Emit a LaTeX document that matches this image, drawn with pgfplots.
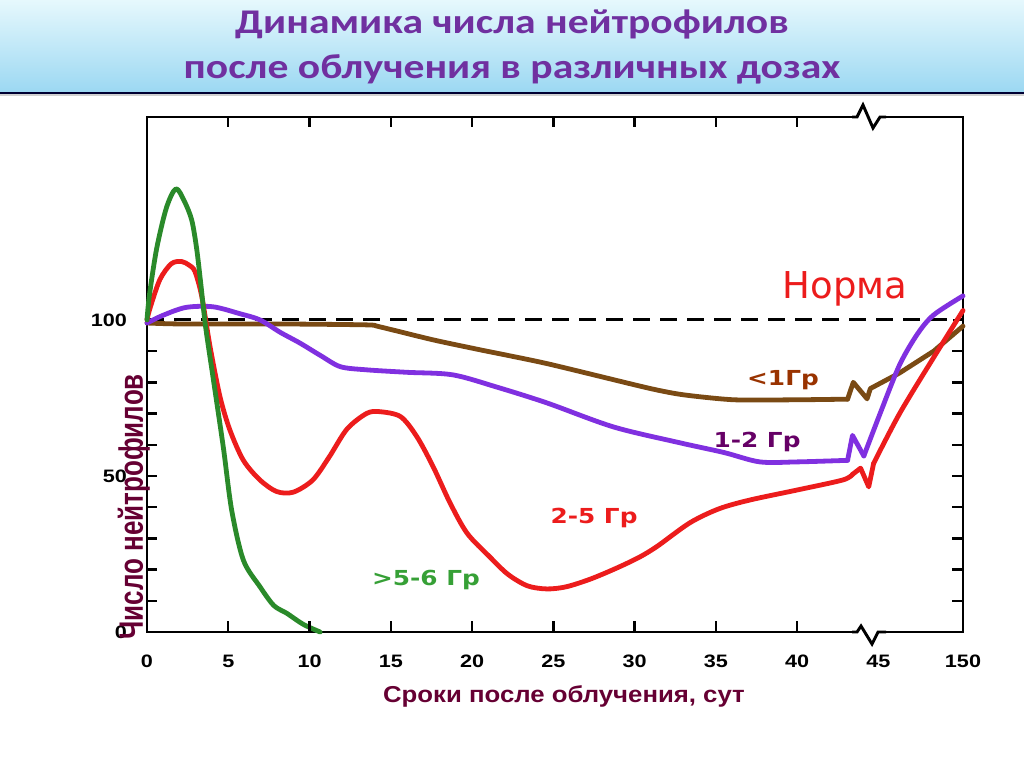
\documentclass[border=0pt]{standalone}
\usepackage{fontspec}
\usepackage{graphicx}
\usepackage{pgfplots}
\pgfplotsset{compat=1.18}
\setmainfont{DejaVu Sans}
\newfontfamily\carlito{Carlito}
\newfontfamily\lib{Liberation Sans}
\newfontfamily\dvs{DejaVu Sans}

\definecolor{titlepurple}{HTML}{7030A0}
\definecolor{bandtop}{HTML}{E6F8FD}
\definecolor{bandbot}{HTML}{9CD8F2}
\definecolor{labmaroon}{HTML}{660033}
\definecolor{cgreen}{HTML}{2A8A2A}
\definecolor{cred}{HTML}{EC1C1C}
\definecolor{cpurple}{HTML}{8030E0}
\definecolor{cbrown}{HTML}{7A4A14}
\definecolor{tbrown}{HTML}{993300}
\definecolor{tpurple}{HTML}{660066}
\definecolor{tgreen}{HTML}{36A036}

\begin{document}
\begin{tikzpicture}
% page frame and title band, in pixel units (y down)
\begin{scope}[x=0.75pt,y=-0.75pt]
\useasboundingbox (0,0) rectangle (1024,767);
\fill[white] (0,0) rectangle (1024,767);
\shade[top color=bandtop,bottom color=bandbot] (0,0) rectangle (1024,92);
\fill[black!18] (0,93) rectangle (1024,96);
\draw[line width=1.5pt,black!80!blue] (0,93)--(1024,93);
\node[anchor=base,xscale=1.2,text=titlepurple,font=\carlito\bfseries\fontsize{26}{30}\selectfont] at (512,34) {Динамика числа нейтрофилов};
\node[anchor=base,xscale=1.2,text=titlepurple,font=\carlito\bfseries\fontsize{26}{30}\selectfont] at (512,79) {после облучения в различных дозах};
\end{scope}

\begin{axis}[at={(110.25pt,-474pt)}, anchor=south west,
  scale only axis, width=612pt, height=386.25pt,
  xmin=0, xmax=50.2, ymin=0, ymax=165, clip=false,
  axis line style={line width=2.2pt},
  tick align=inside, major tick length=7.5pt,
  tick style={line width=1.8pt,black},
  xtick={0,5,10,...,45,50.2}, xticklabels={0,5,10,15,20,25,30,35,40,45,150},
  ytick={0,10,...,100}, yticklabels={0,,,,,50,,,,,100},
  /pgf/number format/assume math mode=true,
  ticklabel style={font=\lib\bfseries\fontsize{13.5}{16}\selectfont, xscale=1.2},
  xticklabel style={yshift=-14pt},
  yticklabel style={xshift=-9pt},
  xlabel={Сроки после облучения, сут},
  xlabel style={at={(axis description cs:0.511,-0.136)}, anchor=base,
    font=\lib\bfseries\fontsize{17.25}{20}\selectfont, text=labmaroon, xscale=1.12},
  ylabel={\scalebox{1}[1.3]{Число нейтрофилов}},
  ylabel style={at={(axis description cs:-0.005,0.243)}, anchor=base,
    font=\lib\bfseries\fontsize{19.5}{22}\selectfont, text=labmaroon},
  every axis plot/.append style={line width=3.6pt, line cap=round, line join=round}]

% norm
\addplot[black, line width=2.2pt, dash pattern=on 12.75pt off 7.5pt, line cap=butt] coordinates {(0,100)(50.2,100)};

% <1 Gy
\addplot[cbrown, smooth, tension=0.4] coordinates {(0,99)(2,98.7)(8,98.7)(13.5,98.4)(14.3,97.8)(17.6,93.6)(20.5,90.4)(24.6,86)(30.8,78.2)(33,76)(36.1,74.4)(40,74.4)(43.1,74.6)};
\addplot[cbrown] coordinates {(43.1,74.6)(43.45,80)(44.3,74.7)(44.5,78)(46.3,83)(48.4,90)(50.2,98)};

% 1-2 Gy
\addplot[cpurple, smooth, tension=0.5] coordinates {(0,99)(1.0,101.5)(2.4,104)(4.06,104.2)(5.7,102)(6.95,100)(8.2,96)(9.4,92.6)(10.7,88.5)(11.9,85)(13.5,84)(16,83.2)(18.8,82.4)(21.5,78.5)(24.6,73.4)(28.7,65.7)(32.8,60.6)(35.5,57.5)(37.7,54.5)(40,54.5)(43.1,55)};
\addplot[cpurple] coordinates {(43.1,55)(43.4,63)(44.1,56.4)};
\addplot[cpurple, smooth, tension=0.5] coordinates {(44.1,56.4)(45.1,70)(46.3,85.6)(47.4,95.5)(48.4,101.6)(50.2,107.7)};

% 2-5 Gy
\addplot[cred, smooth, tension=0.5] coordinates {(0,100)(0.2,104)(0.8,113)(1.5,118)(2.13,118.7)(2.6,117.5)(2.95,115.5)(3.37,107.5)(3.88,91.4)(4.49,75.4)(5.1,64.7)(5.93,55)(6.95,48.7)(7.98,45)(9.0,44.8)(10.2,48.7)(11.2,56)(12.3,65)(13.5,70)(14.3,70.6)(15.6,69)(16.6,62.6)(17.6,53)(18.65,41.3)(19.7,31.6)(21.1,24)(22.2,18.5)(23.4,14.8)(24.6,13.8)(25.8,14.5)(27.3,17)(28.9,20.5)(30.3,24)(31.4,27.5)(33.4,35)(35.2,39.5)(37.1,42.3)(40,45.5)(42.8,48.7)(43.4,50.5)};
\addplot[cred] coordinates {(43.4,50.5)(43.9,52.5)(44.4,46.5)(44.7,54)};
\addplot[cred, smooth, tension=0.5] coordinates {(44.7,54)(46.3,70)(48.4,88)(50.2,103)};

% >5-6 Gy
\addplot[cgreen, smooth, tension=0.5] coordinates {(0,100)(0.15,108)(0.6,123)(1.2,136)(1.78,142)(2.3,138)(2.75,132)(3.05,123)(3.3,112)(3.6,98)(4.08,81)(4.7,59)(5.21,39)(5.93,23)(6.95,14.5)(7.8,8.5)(8.6,6)(9.6,2.5)(10.65,0)};
\end{axis}

% axis breaks, ticks on bottom and right, annotations (pixel units)
\begin{scope}[x=0.75pt,y=-0.75pt]
\foreach \k in {5,10,...,40} \draw[line width=1.8pt] ({147+16.255*\k},632) -- ({147+16.255*\k},621);
\foreach \v in {10,20,...,90} \draw[line width=1.8pt] (963,{632-3.1212*\v}) -- (952,{632-3.1212*\v});
\fill[white] (855,109) rectangle (883,129);
\draw[line width=2.2pt, line join=miter] (852,117)--(857,117)--(863,105)--(873,128)--(880,117)--(886,117);
\fill[white] (855,620) rectangle (882,640);
\draw[line width=2.2pt, line join=miter] (852,632)--(857,632)--(861,626)--(872,644)--(878,632)--(886,632);

\node[anchor=base,text=cred,font=\dvs\fontsize{27.75}{32}\selectfont] at (845,298) {Норма};
\node[anchor=base,xscale=1.2,text=tbrown,font=\dvs\bfseries\fontsize{15.5}{18}\selectfont] at (783,385) {<1Гр};
\node[anchor=base,xscale=1.2,text=tpurple,font=\dvs\bfseries\fontsize{15.5}{18}\selectfont] at (757,447) {1-2 Гр};
\node[anchor=base,xscale=1.2,text=cred,font=\dvs\bfseries\fontsize{15.5}{18}\selectfont] at (594,523) {2-5 Гр};
\node[anchor=base,xscale=1.2,text=tgreen,font=\dvs\bfseries\fontsize{15.5}{18}\selectfont] at (426,585) {>5-6 Гр};
\end{scope}
\end{tikzpicture}
\end{document}
